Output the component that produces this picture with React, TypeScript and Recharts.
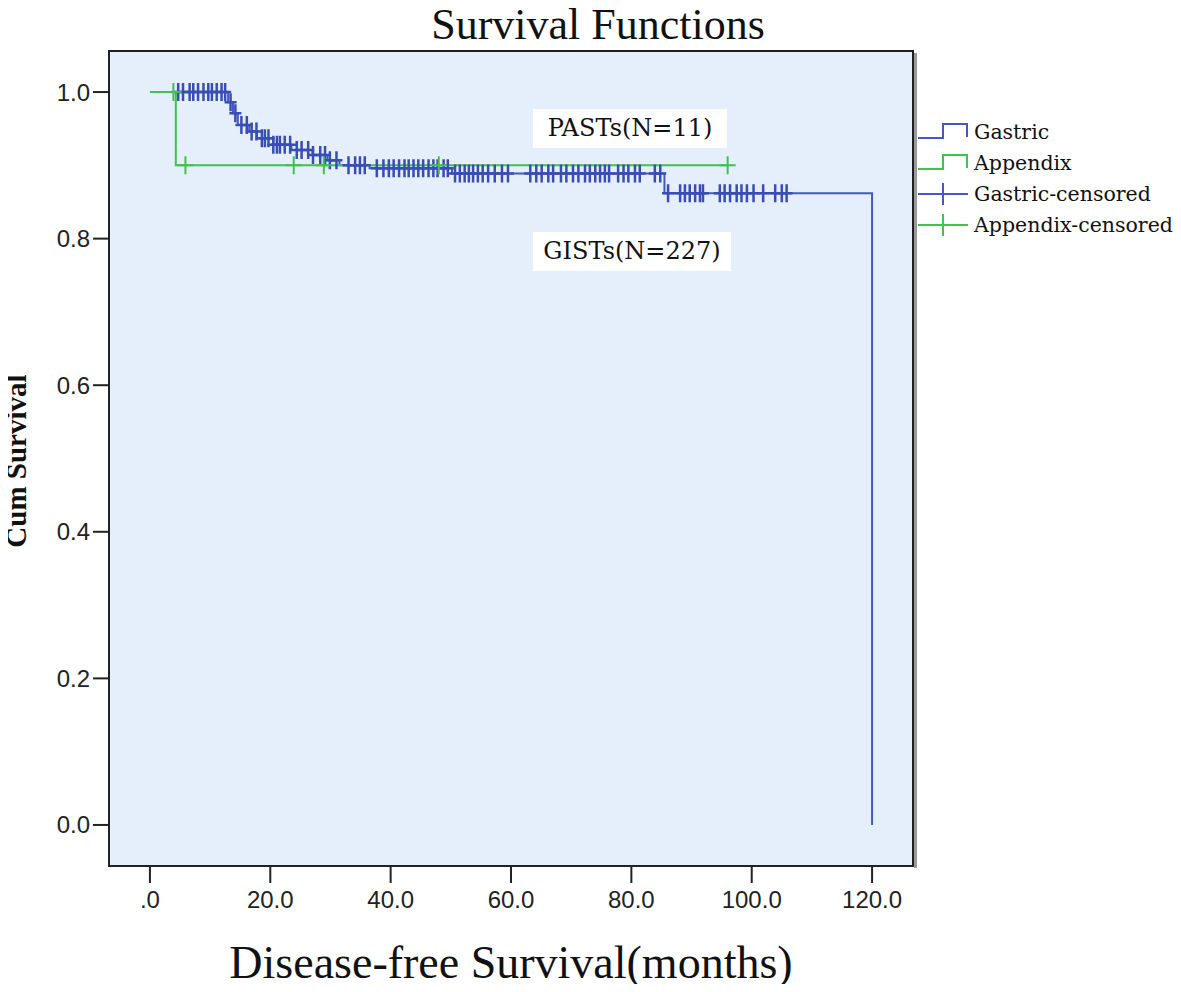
import React from "react"
import {
  ComposedChart,
  Line,
  Scatter,
  XAxis,
  YAxis,
  ReferenceArea,
} from "recharts"

// Kaplan-Meier steps (months, cumulative survival)
const gastricTimes = [0, 13.0, 13.8, 14.6, 16.5, 17.8, 20.5, 23.5, 27.0, 29.5, 31.5, 36.5, 50.2, 85.5, 120.0]
const gastricSurvival = [1.0, 0.986, 0.971, 0.955, 0.946, 0.937, 0.928, 0.921, 0.914, 0.907, 0.9, 0.896, 0.889, 0.862, 0.0]

const appendixTimes = [0, 4.3, 96.0]
const appendixSurvival = [1.0, 0.9, 0.9]

const gastricCensored = [
  4.7, 5.5, 6.6, 7.2, 8.0, 8.9, 9.7, 10.3, 11.1, 11.9, 12.5,
  13.4, 14.2, 15.2, 16.1, 16.9, 17.7, 18.6, 19.1, 19.7, 20.5, 21.1, 21.6, 22.4, 23.3, 24.4,
  25.2, 26.3, 27.1, 28.3, 29.1, 29.9, 31.0, 33.0, 34.1, 34.9, 35.7,
  37.7, 38.8, 39.7, 40.5, 41.4, 42.3, 43.0, 43.8, 44.6, 45.4, 46.3, 47.1, 47.8, 48.8, 49.5,
  50.7, 51.5, 52.3, 53.0, 53.7, 54.5, 55.3, 56.2, 57.3, 58.5, 59.5, 63.2, 64.2, 65.1, 66.2,
  67.0, 68.3, 69.2, 70.3, 71.2, 72.3, 73.1, 74.0, 74.8, 75.6, 76.3, 77.8, 78.7, 79.5, 80.6,
  81.4, 83.9, 84.8,
  86.1, 88.1, 88.9, 89.7, 90.6, 91.4, 91.9, 94.7, 95.5, 96.4, 97.5, 98.3, 99.2, 100.3, 101.9,
  103.9, 105.0, 105.8,
]
const appendixCensored = [3.9, 5.9, 23.9, 28.9, 48.0, 96.0]

const xTicks = [0, 20, 40, 60, 80, 100, 120]
const yTicks = [0, 0.2, 0.4, 0.6, 0.8, 1.0]

const BLUE = "#4559be"
const BLUE_MARK = "#3a4db3"
const GREEN = "#3fc24e"

function survAt(times: number[], surv: number[], t: number) {
  let s = surv[0]
  for (let i = 0; i < times.length; i++) if (times[i] <= t) s = surv[i]
  return s
}

const gastricLine = gastricTimes.map((t, i) => ({ t, s: gastricSurvival[i] }))
const appendixLine = appendixTimes.map((t, i) => ({ t, s: appendixSurvival[i] }))
const gastricMarks = gastricCensored.map((t) => ({ t, s: survAt(gastricTimes, gastricSurvival, t) }))
const appendixMarks = appendixCensored.map((t) => ({ t, s: survAt(appendixTimes, appendixSurvival, t) }))

const cross = (color: string, h: number, v: number, w: number) => (props: any) => {
  const { cx, cy } = props
  if (cx == null || cy == null) return <g />
  return (
    <path
      d={`M${cx - h},${cy}H${cx + h}M${cx},${cy - v}V${cy + v}`}
      stroke={color}
      strokeWidth={w}
      fill="none"
    />
  )
}

const serif = "'Liberation Serif', 'Times New Roman', serif"
const legendFont = "'DejaVu Serif', serif"

const legendItems = [
  { label: "Gastric", color: BLUE, kind: "step" },
  { label: "Appendix", color: GREEN, kind: "step" },
  { label: "Gastric-censored", color: BLUE, kind: "cross" },
  { label: "Appendix-censored", color: GREEN, kind: "cross" },
]

function LegendIcon({ color, kind }: { color: string; kind: string }) {
  return (
    <svg width={54} height={28} style={{ display: "block" }}>
      {kind === "step" ? (
        <path d="M2,20H27V6H51V19" stroke={color} strokeWidth={2} fill="none" />
      ) : (
        <path d="M2,14H52M27,3V25" stroke={color} strokeWidth={2} fill="none" />
      )}
    </svg>
  )
}

const noteStyle: React.CSSProperties = {
  position: "absolute",
  background: "#ffffff",
  fontFamily: legendFont,
  fontSize: 24,
  color: "#111",
  textAlign: "center",
  lineHeight: "39px",
  height: 39,
  whiteSpace: "nowrap",
}

export default function App() {
  return (
    <div style={{ position: "relative", margin: -8, width: 1181, height: 992, overflow: "hidden", background: "#fff" }}>
      <ComposedChart
        width={1181}
        height={992}
        margin={{ top: 51, right: 268, left: 19, bottom: 0 }}
      >
        <XAxis
          dataKey="t"
          type="number"
          domain={[-6.8, 126.8]}
          ticks={xTicks}
          allowDataOverflow
          height={126}
          tickSize={17}
          tickMargin={8}
          tickLine={{ stroke: "#222", strokeWidth: 2 }}
          axisLine={{ stroke: "#222", strokeWidth: 2 }}
          tick={{ fill: "#222", fontSize: 24, fontFamily: "'Liberation Sans', Arial, sans-serif" }}
          tickFormatter={(v: number) => (v === 0 ? ".0" : v.toFixed(1))}
        />
        <YAxis
          type="number"
          domain={[-0.056, 1.056]}
          ticks={yTicks}
          allowDataOverflow
          width={90}
          tickSize={16}
          tickMargin={3}
          tickLine={{ stroke: "#222", strokeWidth: 2 }}
          axisLine={{ stroke: "#222", strokeWidth: 2 }}
          tick={{ fill: "#222", fontSize: 24, fontFamily: "'Liberation Sans', Arial, sans-serif" }}
          tickFormatter={(v: number) => v.toFixed(1)}
        />
        <ReferenceArea
          x1={-6.8}
          x2={126.8}
          y1={-0.056}
          y2={1.056}
          fill="#e5eefb"
          fillOpacity={1}
          stroke="#1e1e1e"
          strokeWidth={2}
          ifOverflow="visible"
        />
        <Line
          data={gastricLine}
          dataKey="s"
          type="stepAfter"
          stroke={BLUE}
          strokeWidth={2}
          dot={false}
          isAnimationActive={false}
        />
        <Line
          data={appendixLine}
          dataKey="s"
          type="stepAfter"
          stroke={GREEN}
          strokeWidth={2}
          dot={false}
          isAnimationActive={false}
        />
        <Scatter data={gastricMarks} dataKey="s" shape={cross(BLUE_MARK, 6, 9, 2.5)} isAnimationActive={false} />
        <Scatter data={appendixMarks} dataKey="s" shape={cross(GREEN, 8, 9, 2)} isAnimationActive={false} />
      </ComposedChart>

      {/* shadow on the right edge of the plot frame */}
      <div style={{ position: "absolute", left: 914, top: 53, width: 3, height: 815, background: "#9a9a9a" }} />

      <div
        style={{
          position: "absolute",
          left: 398,
          top: 2,
          width: 400,
          textAlign: "center",
          fontFamily: serif,
          fontSize: 44,
          lineHeight: "46px",
          color: "#111",
          whiteSpace: "nowrap",
        }}
      >
        Survival Functions
      </div>

      <div
        style={{
          position: "absolute",
          left: 111,
          top: 940,
          width: 800,
          textAlign: "center",
          fontFamily: serif,
          fontSize: 46,
          lineHeight: "46px",
          color: "#111",
        }}
      >
        Disease-free Survival(months)
      </div>

      <div
        style={{
          position: "absolute",
          left: 16 - 150,
          top: 461 - 16,
          width: 300,
          height: 32,
          textAlign: "center",
          fontFamily: serif,
          fontWeight: "bold",
          fontSize: 29,
          lineHeight: "32px",
          color: "#111",
          transform: "rotate(-90deg)",
        }}
      >
        Cum Survival
      </div>

      <div style={{ ...noteStyle, left: 533, top: 109, width: 194 }}>PASTs(N=11)</div>
      <div style={{ ...noteStyle, left: 533, top: 232, width: 198 }}>GISTs(N=227)</div>

      <div style={{ position: "absolute", left: 916, top: 116 }}>
        {legendItems.map((it) => (
          <div key={it.label} style={{ display: "flex", alignItems: "center", height: 31, whiteSpace: "nowrap" }}>
            <LegendIcon color={it.color} kind={it.kind} />
            <span style={{ fontFamily: legendFont, fontSize: 20.5, color: "#111", marginLeft: 4 }}>{it.label}</span>
          </div>
        ))}
      </div>
    </div>
  )
}
